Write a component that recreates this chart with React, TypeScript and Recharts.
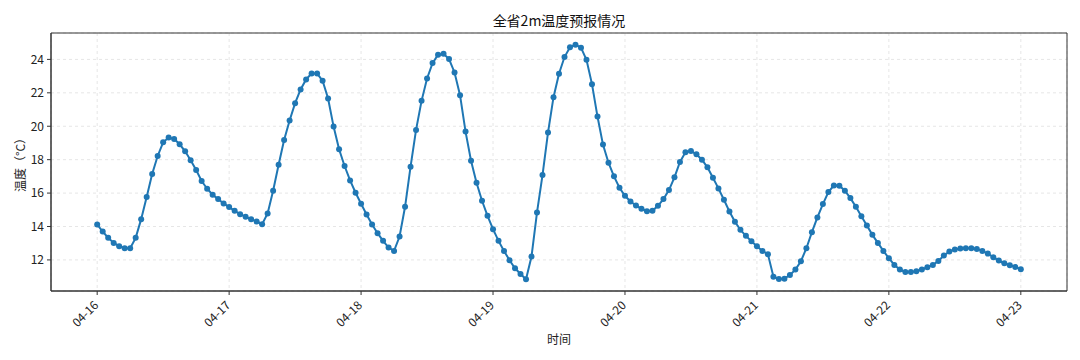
import React from 'react';
import { LineChart, Line, XAxis, YAxis, CartesianGrid, ReferenceArea } from 'recharts';

const hours: number[] = Array.from({ length: 169 }, (_, i) => i);

const temps: number[] = [
  14.12, 13.7, 13.32, 13.02, 12.82, 12.7, 12.7, 13.32, 14.44, 15.76, 17.14, 18.22,
  19.04, 19.32, 19.24, 18.92, 18.5, 17.96, 17.38, 16.72, 16.26, 15.9, 15.64, 15.38,
  15.16, 14.94, 14.74, 14.58, 14.44, 14.3, 14.14, 14.78, 16.14, 17.7, 19.18, 20.34,
  21.38, 22.2, 22.8, 23.16, 23.16, 22.72, 21.66, 19.98, 18.62, 17.62, 16.76, 16.02,
  15.36, 14.72, 14.12, 13.6, 13.14, 12.74, 12.54, 13.4, 15.18, 17.58, 19.78, 21.52,
  22.86, 23.78, 24.28, 24.34, 24.02, 23.22, 21.86, 19.68, 17.94, 16.62, 15.54, 14.64,
  13.84, 13.14, 12.54, 11.98, 11.5, 11.16, 10.84, 12.2, 14.84, 17.08, 19.62, 21.74,
  23.14, 24.14, 24.72, 24.88, 24.7, 23.98, 22.52, 20.58, 18.9, 17.82, 17.0, 16.32,
  15.84, 15.5, 15.26, 15.06, 14.92, 14.94, 15.24, 15.64, 16.18, 16.94, 17.86, 18.44,
  18.52, 18.32, 18.0, 17.54, 16.92, 16.28, 15.6, 14.9, 14.28, 13.8, 13.44, 13.12,
  12.82, 12.54, 12.34, 11.0, 10.86, 10.88, 11.1, 11.42, 11.92, 12.7, 13.66, 14.54,
  15.34, 16.06, 16.46, 16.44, 16.14, 15.7, 15.18, 14.62, 14.06, 13.5, 13.02, 12.54,
  12.1, 11.7, 11.42, 11.28, 11.28, 11.32, 11.42, 11.56, 11.7, 11.94, 12.26, 12.5,
  12.62, 12.68, 12.7, 12.7, 12.66, 12.54, 12.38, 12.16, 11.96, 11.8, 11.68, 11.58,
  11.44,
];

const xTickHours: number[] = [0, 24, 48, 72, 96, 120, 144, 168];
const xTickLabels: string[] = ['04-16', '04-17', '04-18', '04-19', '04-20', '04-21', '04-22', '04-23'];
const yTicks: number[] = [12, 14, 16, 18, 20, 22, 24];

const titleText = '全省2m温度预报情况';
const xLabelText = '时间';
const yLabelText = '温度（°C）';

const data = hours.map((h, i) => ({ h, t: temps[i] }));

const FONT = '"Noto Sans CJK SC", "DejaVu Sans", sans-serif';

const XTick = (props: any) => {
  const { x, y, payload } = props;
  const idx = xTickHours.indexOf(payload.value);
  const label = idx >= 0 ? xTickLabels[idx] : '';
  const ax = x + 2;
  const ay = y + 9;
  return (
    <text
      x={ax}
      y={ay}
      transform={`rotate(-45 ${ax} ${ay})`}
      textAnchor="end"
      fontSize={12}
      fontFamily={FONT}
      fill="#222"
    >
      {label}
    </text>
  );
};

const YLabel = (props: any) => {
  const vb = props.viewBox || {};
  const cx = 22;
  const cy = vb.y + vb.height / 2;
  return (
    <text
      x={cx}
      y={cy}
      transform={`rotate(-90 ${cx} ${cy})`}
      textAnchor="middle"
      dominantBaseline="middle"
      fontSize={12}
      fontFamily={FONT}
      fill="#222"
    >
      {yLabelText}
    </text>
  );
};

const XLabel = (props: any) => {
  const vb = props.viewBox || {};
  const cx = vb.x + vb.width / 2;
  return (
    <text x={cx} y={344} textAnchor="middle" fontSize={12} fontFamily={FONT} fill="#222">
      {xLabelText}
    </text>
  );
};

export default function App() {
  return (
    <div style={{ position: 'absolute', left: 0, top: 0, width: 1080, height: 360, background: '#fff' }}>
      <div
        style={{
          position: 'absolute',
          left: 51,
          width: 1016,
          top: 10,
          textAlign: 'center',
          fontFamily: FONT,
          fontSize: 14,
          color: '#111',
          lineHeight: '20px',
        }}
      >
        {titleText}
      </div>
      <LineChart width={1080} height={360} data={data} margin={{ top: 33, right: 13, bottom: 19, left: 11 }}>
        <CartesianGrid stroke="#e6e6e6" strokeDasharray="3 3" />
        <XAxis
          dataKey="h"
          type="number"
          domain={[-8.4, 176.4]}
          ticks={xTickHours}
          interval={0}
          height={50}
          tick={<XTick />}
          tickSize={4}
          tickLine={{ stroke: '#333' }}
          axisLine={{ stroke: '#333' }}
          allowDataOverflow
          label={<XLabel />}
        />
        <YAxis
          type="number"
          domain={[10.14, 25.58]}
          ticks={yTicks}
          interval={0}
          width={40}
          tickSize={4}
          tickMargin={3}
          tick={{ fontSize: 12, fontFamily: FONT, fill: '#222' }}
          tickLine={{ stroke: '#333' }}
          axisLine={{ stroke: '#333' }}
          allowDataOverflow
          label={<YLabel />}
        />
        <ReferenceArea
          x1={-8.4}
          x2={176.4}
          y1={10.14}
          y2={25.58}
          fill="none"
          stroke="#333"
          strokeWidth={1}
          ifOverflow="visible"
        />
        <Line
          type="linear"
          dataKey="t"
          stroke="#1f77b4"
          strokeWidth={2}
          dot={{ r: 3, fill: '#1f77b4', stroke: '#1f77b4', strokeWidth: 0 }}
          isAnimationActive={false}
        />
      </LineChart>
    </div>
  );
}
